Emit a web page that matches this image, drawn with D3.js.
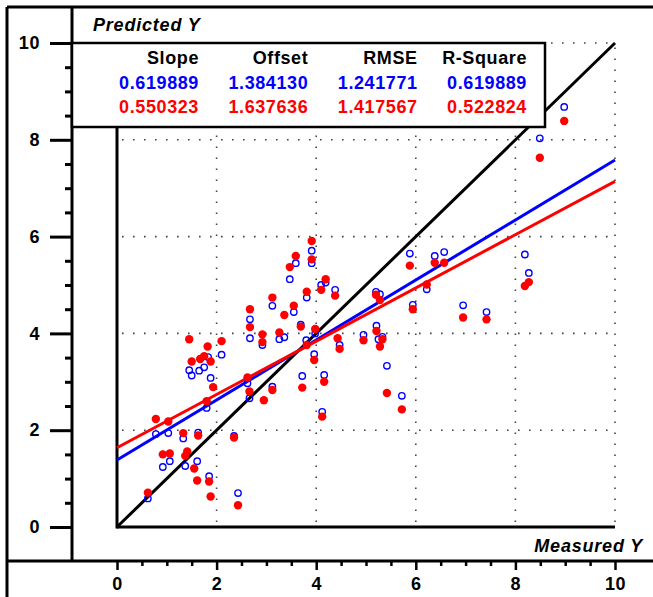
<!DOCTYPE html>
<html>
<head>
<meta charset="utf-8">
<script src="https://cdn.jsdelivr.net/npm/d3@7"></script>
<style>
  body { margin: 0; background: #fff; }
  svg text { font-family: "Liberation Sans", Arial, sans-serif; font-weight: bold; }
</style>
</head>
<body>
<svg id="chart"></svg>
<script>
// measured vs predicted, model 1 (blue, open circles)
const measuredBlue = [0.62, 0.78, 0.92, 1.03, 1.06, 1.33, 1.37, 1.45, 1.50, 1.61, 1.63, 1.65, 1.75, 1.80, 1.83, 1.85, 1.88,
  2.10, 2.35, 2.43, 2.62, 2.66, 2.67, 2.67, 2.92, 3.12, 3.12, 3.26, 3.36, 3.47, 3.55, 3.59, 3.69, 3.72, 3.80, 3.81,
  3.91, 3.91, 3.96, 3.98, 4.10, 4.12, 4.16, 4.19, 4.38, 4.47, 4.95, 5.20, 5.21, 5.25, 5.28, 5.33, 5.42, 5.72, 5.88,
  5.94, 6.22, 6.38, 6.57, 6.95, 7.42, 8.19, 8.27, 8.49, 8.98];
const predictedBlue = [0.59, 1.92, 1.24, 1.94, 1.36, 1.83, 1.26, 3.24, 3.13, 1.36, 1.95, 3.23, 3.30, 2.46, 3.51, 1.05, 3.08,
  3.56, 1.88, 0.70, 2.97, 2.66, 4.29, 3.90, 3.76, 4.57, 2.90, 3.88, 3.92, 5.12, 4.44, 5.45, 4.18, 3.12, 3.86, 4.74,
  5.71, 5.45, 3.57, 4.00, 5.00, 2.38, 3.14, 5.05, 4.90, 3.76, 3.97, 4.86, 4.16, 3.88, 4.81, 3.93, 3.33, 2.71, 5.65,
  4.59, 4.91, 5.60, 5.68, 4.58, 4.44, 5.63, 5.25, 8.03, 8.68];

// model 2 (red, filled circles)
const measuredRed = [0.62, 0.78, 0.92, 1.03, 1.06, 1.33, 1.37, 1.41, 1.45, 1.50, 1.55, 1.61, 1.63, 1.67, 1.75, 1.80, 1.82,
  1.85, 1.88, 1.88, 1.93, 2.10, 2.35, 2.43, 2.62, 2.66, 2.67, 2.67, 2.92, 2.92, 2.95, 3.12, 3.12, 3.26, 3.36, 3.47,
  3.55, 3.59, 3.69, 3.72, 3.81, 3.81, 3.91, 3.91, 3.96, 3.98, 4.10, 4.12, 4.16, 4.19, 4.38, 4.43, 4.47, 4.95, 5.20,
  5.21, 5.28, 5.28, 5.33, 5.42, 5.72, 5.88, 5.94, 6.22, 6.38, 6.57, 6.95, 7.42, 8.19, 8.27, 8.49, 8.98];
const predictedRed = [0.71, 2.23, 1.50, 2.18, 1.52, 1.94, 1.47, 1.56, 3.88, 3.42, 1.21, 0.96, 1.89, 3.47, 3.53, 2.60, 3.73,
  0.94, 3.42, 0.63, 2.89, 3.84, 1.85, 0.45, 3.09, 2.80, 4.50, 4.13, 3.98, 3.82, 2.62, 4.74, 2.83, 4.02, 4.38, 5.37,
  4.57, 5.60, 4.14, 2.88, 4.86, 3.76, 5.91, 5.53, 3.45, 4.09, 4.90, 2.28, 3.00, 5.12, 4.78, 3.90, 3.68, 3.86, 4.80,
  4.05, 4.69, 3.73, 3.88, 2.77, 2.43, 5.40, 4.50, 5.01, 5.46, 5.46, 4.33, 4.29, 4.98, 5.06, 7.63, 8.39];

const statNames = ["Slope", "Offset", "RMSE", "R-Square"];
const statsBlue = ["0.619889", "1.384130", "1.241771", "0.619889"];
const statsRed = ["0.550323", "1.637636", "1.417567", "0.522824"];

const majorTicks = [0, 2, 4, 6, 8, 10];
const minorTicks = d3.range(0.5, 10, 0.5).filter(d => d % 2 !== 0);

const W = 653, H = 597;
const svg = d3.select("#chart").attr("width", W).attr("height", H);

const x = d3.scaleLinear().domain([0, 10]).range([117, 615]);
const y = d3.scaleLinear().domain([0, 10]).range([527, 43]);

// dotted grid
const grid = svg.append("g").attr("stroke", "#444").attr("stroke-width", 1.6)
  .attr("stroke-dasharray", "1.6 9.4");
grid.selectAll(".gx").data([2, 4, 6, 8, 10]).join("line")
  .attr("x1", d => x(d)).attr("x2", d => x(d))
  .attr("y1", y(0) - 5).attr("y2", y(10));
grid.selectAll(".gy").data([2, 4, 6, 8, 10]).join("line")
  .attr("y1", d => y(d)).attr("y2", d => y(d))
  .attr("x1", x(0) + 5).attr("x2", x(10));

// outer frame
const frame = svg.append("g").attr("stroke", "#000").attr("stroke-width", 3);
frame.append("line").attr("x1", 7).attr("x2", W).attr("y1", 7).attr("y2", 7);
frame.append("line").attr("x1", 7).attr("x2", 7).attr("y1", 7).attr("y2", H);

// left (predicted) axis
const yMajor = svg.append("g").attr("transform", "translate(72,0)")
  .call(d3.axisLeft(y).tickValues(majorTicks).tickSize(22).tickPadding(10).tickFormat(d3.format("d")));
const yMinor = svg.append("g").attr("transform", "translate(72,0)")
  .call(d3.axisLeft(y).tickValues(minorTicks).tickSize(7).tickFormat(""));
[yMajor, yMinor].forEach(g => {
  g.select(".domain").remove();
  g.selectAll(".tick line").attr("stroke", "#000").attr("stroke-width", 3);
});
svg.append("line").attr("x1", 72).attr("x2", 72).attr("y1", 7).attr("y2", 562)
  .attr("stroke", "#000").attr("stroke-width", 3);

// bottom (measured) axis
const xMajor = svg.append("g").attr("transform", "translate(0,561)")
  .call(d3.axisBottom(x).tickValues(majorTicks).tickSize(9).tickPadding(7).tickFormat(d3.format("d")));
const xMinor = svg.append("g").attr("transform", "translate(0,561)")
  .call(d3.axisBottom(x).tickValues(minorTicks).tickSize(5).tickFormat(""));
[xMajor, xMinor].forEach(g => {
  g.select(".domain").remove();
  g.selectAll(".tick line").attr("stroke", "#000").attr("stroke-width", 2.5);
});
svg.append("line").attr("x1", 7).attr("x2", W).attr("y1", 561).attr("y2", 561)
  .attr("stroke", "#000").attr("stroke-width", 3);

svg.selectAll(".tick text").attr("fill", "#000")
  .style("font-size", "18px").style("letter-spacing", "0.6px");

// inner axes
svg.append("line").attr("x1", x(0)).attr("x2", x(0)).attr("y1", y(10)).attr("y2", y(0) + 1.5)
  .attr("stroke", "#000").attr("stroke-width", 3);
svg.append("line").attr("x1", x(0)).attr("x2", x(10)).attr("y1", y(0)).attr("y2", y(0))
  .attr("stroke", "#000").attr("stroke-width", 3);

// 1:1 line and fitted lines
const line = d3.line().x(d => x(d[0])).y(d => y(d[1]));
svg.append("path").datum([[0, 0], [10, 10]]).attr("d", line)
  .attr("stroke", "#000").attr("stroke-width", 3).attr("fill", "none");

function fit(stats) {
  const slope = +stats[0], offset = +stats[1];
  return [0, 10].map(v => [v, offset + slope * v]);
}
svg.append("path").datum(fit(statsBlue)).attr("d", line)
  .attr("stroke", "#0000ff").attr("stroke-width", 3).attr("fill", "none");
svg.append("path").datum(fit(statsRed)).attr("d", line)
  .attr("stroke", "#ff0000").attr("stroke-width", 3).attr("fill", "none");

// points
svg.append("g").selectAll("circle").data(measuredBlue).join("circle")
  .attr("cx", d => x(d)).attr("cy", (d, i) => y(predictedBlue[i])).attr("r", 3.2)
  .attr("fill", "none").attr("stroke", "#0000ff").attr("stroke-width", 1.4);
svg.append("g").selectAll("circle").data(measuredRed).join("circle")
  .attr("cx", d => x(d)).attr("cy", (d, i) => y(predictedRed[i])).attr("r", 4.2)
  .attr("fill", "#ff0000");

// stats box
const legend = svg.append("g");
legend.append("rect").attr("x", 72).attr("y", 43).attr("width", 473).attr("height", 84)
  .attr("fill", "#fff").attr("stroke", "#000").attr("stroke-width", 2.5);
const col = d3.scalePoint().domain(statNames).range([199, 527]);
const rows = [
  { vals: statNames, color: "#000", yy: 64 },
  { vals: statsBlue, color: "#0000ff", yy: 89 },
  { vals: statsRed, color: "#ff0000", yy: 113 }
];
rows.forEach(r => {
  legend.selectAll(null).data(r.vals).join("text")
    .attr("x", (d, i) => col(statNames[i])).attr("y", r.yy)
    .attr("text-anchor", "end").attr("fill", r.color)
    .style("font-size", "18px").style("letter-spacing", "0.6px")
    .text(d => d);
});

// axis titles
svg.append("text").attr("x", 93).attr("y", 31).style("font-style", "italic")
  .style("font-size", "18px").style("letter-spacing", "0.8px").text("Predicted Y");
svg.append("text").attr("x", 643).attr("y", 552).attr("text-anchor", "end").style("font-style", "italic")
  .style("font-size", "18px").style("letter-spacing", "0.8px").text("Measured Y");
</script>
</body>
</html>
